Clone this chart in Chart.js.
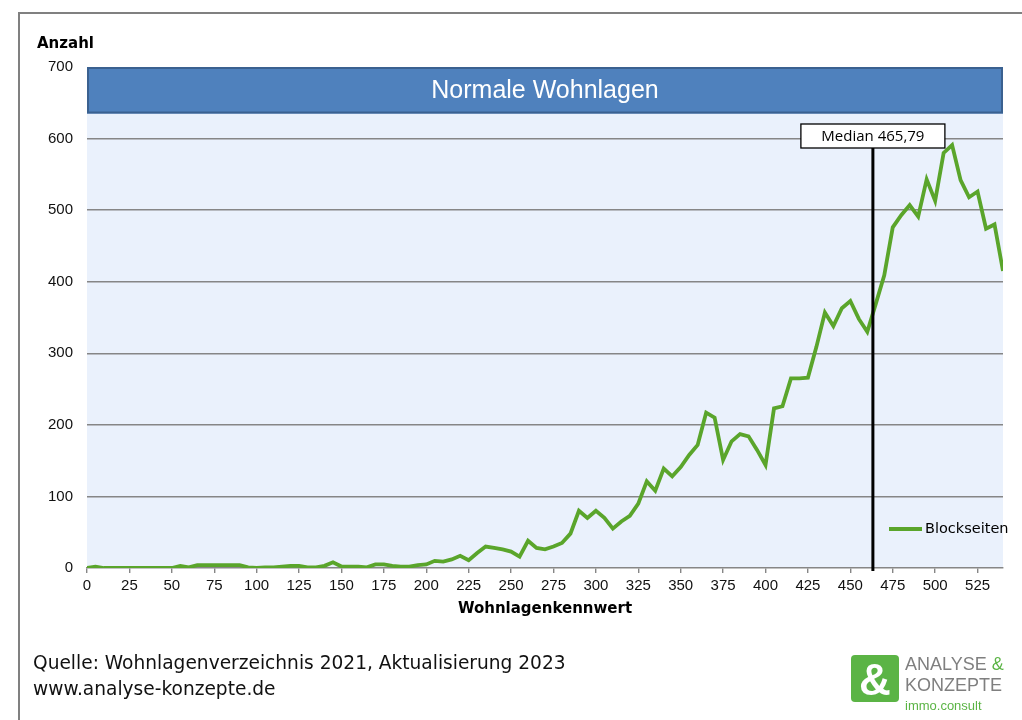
<!DOCTYPE html>
<html><head><meta charset="utf-8">
<script src="https://cdn.jsdelivr.net/npm/chart.js@4/dist/chart.umd.min.js"></script>
<style>
html,body{margin:0;padding:0;background:#fff;width:1022px;height:720px;overflow:hidden;font-family:"Liberation Sans",Arial,sans-serif}
#frame{position:absolute;left:18px;top:12px;width:1010px;height:720px;border-left:2px solid #808080;border-top:2px solid #808080}
#wrap{position:absolute;left:0;top:0;width:1022px;height:720px}
#src{position:absolute;left:33px;top:650px;font-family:"DejaVu Sans",sans-serif;font-size:18.6px;line-height:26px;color:#111}
#logo{position:absolute;left:851px;top:655px}
#logo .sq{position:absolute;left:0;top:0;width:48px;height:47px;background:#5BB445;border-radius:4px;color:#fff;font:bold 44px "Liberation Sans",Arial;text-align:center;line-height:50px}
#logo .t{position:absolute;left:54px;white-space:nowrap;color:#7f7f7f;font-size:18px;line-height:18px}
</style></head>
<body>
<div id="frame"></div>
<div id="wrap"><canvas id="c" width="1022" height="720"></canvas></div>
<div id="src">Quelle: Wohnlagenverzeichnis 2021, Aktualisierung 2023<br>www.analyse-konzepte.de</div>
<div id="logo"><div class="sq">&amp;</div>
<div class="t" style="top:0px">ANALYSE <span style="color:#5BB445">&amp;</span></div>
<div class="t" style="top:21px">KONZEPTE</div>
<div class="t" style="top:42px;font-size:13px;color:#5BB445">immo.consult</div></div>
<script>
const kennwert = [0,5,10,15,20,25,30,35,40,45,50,55,60,65,70,75,80,85,90,95,100,105,110,115,120,125,130,135,140,145,150,155,160,165,170,175,180,185,190,195,200,205,210,215,220,225,230,235,240,245,250,255,260,265,270,275,280,285,290,295,300,305,310,315,320,325,330,335,340,345,350,355,360,365,370,375,380,385,390,395,400,405,410,415,420,425,430,435,440,445,450,455,460,465,470,475,480,485,490,495,500,505,510,515,520,525,530,535,540];
const blockseiten = [0,2,0,0,0,0,0,0,0,0,0,3,1,4,4,4,4,4,4,1,0,1,1,2,3,3,1,1,3,8,2,2,2,1,5,5,3,2,2,4,5,10,9,12,17,11,21,30,28,26,23,16,38,28,26,30,35,48,80,70,80,70,55,65,73,90,121,108,139,128,141,158,172,217,210,151,177,187,184,165,144,223,226,265,265,266,309,357,338,363,373,348,330,369,409,476,493,507,491,543,513,580,591,542,518,526,474,480,415];
const seriesName = "Blockseiten";
const headerTitle = "Normale Wohnlagen";
const headerRange = [635, 700];
const medianLabel = "Median 465,79";
const medianPos = 463.3;
const yTitle = "Anzahl";
const xTitle = "Wohnlagenkennwert";

const pts = kennwert.map((x,i)=>({x:x,y:blockseiten[i]}));
const GREEN = '#5AA52B';
const TF = '"DejaVu Sans", Tahoma, sans-serif';
const LF = '"Liberation Sans", Arial, sans-serif';

const deco = {
  id:'deco',
  beforeDraw(chart){
    const {ctx, chartArea:a} = chart;
    ctx.save();
    ctx.fillStyle = '#EAF1FC';
    ctx.fillRect(a.left, a.top, a.right-a.left, a.bottom-a.top);
    ctx.restore();
  },
  afterDatasetsDraw(chart){
    const {ctx, chartArea:a, scales:{x,y}} = chart;
    ctx.save();
    // header box
    const x0=x.getPixelForValue(x.min), x1=x.getPixelForValue(x.max);
    const y0=y.getPixelForValue(headerRange[1]), y1=y.getPixelForValue(headerRange[0]);
    ctx.fillStyle='#4F81BD'; ctx.strokeStyle='#3A6190'; ctx.lineWidth=2;
    ctx.fillRect(x0,y0,x1-x0,y1-y0); ctx.strokeRect(x0+1,y0+1,x1-x0-2,y1-y0-2);
    ctx.fillStyle='#fff'; ctx.font='25px '+LF; ctx.textAlign='center'; ctx.textBaseline='middle';
    ctx.fillText(headerTitle,(x0+x1)/2,(y0+y1)/2+1);
    // median
    const mx = x.getPixelForValue(medianPos);
    const bw=144,bh=24,by=124;
    ctx.strokeStyle='#000'; ctx.lineWidth=3;
    ctx.beginPath(); ctx.moveTo(mx,by+bh); ctx.lineTo(mx,a.bottom+3); ctx.stroke();
    ctx.fillStyle='#fff'; ctx.fillRect(mx-bw/2,by,bw,bh);
    ctx.lineWidth=1.3; ctx.strokeRect(mx-bw/2,by,bw,bh);
    ctx.fillStyle='#000'; ctx.font='15px "Open Sans", Arial'; ctx.textAlign='center'; ctx.textBaseline='middle';
    ctx.fillText(medianLabel,mx,by+bh/2+1);
    // legend
    const ly = 529;
    ctx.strokeStyle=GREEN; ctx.lineWidth=3.8;
    ctx.beginPath(); ctx.moveTo(889,ly); ctx.lineTo(922,ly); ctx.stroke();
    ctx.fillStyle='#000'; ctx.font='14.5px '+TF; ctx.textAlign='left';
    ctx.fillText(seriesName,925,ly);
    // titles
    ctx.font='bold 15px '+TF;
    ctx.textAlign='left'; ctx.fillText(yTitle,37,44);
    ctx.textAlign='center'; ctx.fillText(xTitle,(a.left+a.right)/2,609);
    ctx.restore();
  }
};

new Chart(document.getElementById('c'),{
  type:'line',
  data:{datasets:[{label:seriesName,data:pts,borderColor:GREEN,borderWidth:3.8,pointRadius:0,tension:0,fill:false,borderJoinStyle:'miter'}]},
  options:{
    responsive:false,animation:false,
    layout:{padding:{left:0,top:67,right:19,bottom:0}},
    plugins:{legend:{display:false},tooltip:{enabled:false}},
    scales:{
      x:{type:'linear',min:0,max:540,
        afterFit(s){s.height=152;},
        border:{display:true,color:'#868686',width:1.4},
        grid:{drawOnChartArea:false,drawTicks:true,tickLength:5,color:'#868686',lineWidth:1.4},
        ticks:{stepSize:25,includeBounds:false,maxRotation:0,autoSkip:false,padding:4,color:'#111',font:{family:LF,size:15}}},
      y:{min:0,max:700,
        afterFit(s){s.width=87;},
        border:{display:false},
        grid:{color:(c)=> (c.tick.value===0||c.tick.value===700)?'rgba(0,0,0,0)':'#868686',lineWidth:1.4,drawTicks:false},
        ticks:{stepSize:100,padding:14,color:'#111',font:{family:LF,size:15}}}
    }
  },
  plugins:[deco]
});
</script>
</body></html>
